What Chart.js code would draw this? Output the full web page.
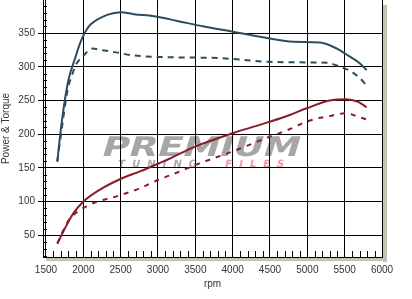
<!DOCTYPE html>
<html>
<head>
<meta charset="utf-8">
<script src="https://cdn.jsdelivr.net/npm/chart.js@4/dist/chart.umd.min.js"></script>
<style>
html,body{margin:0;padding:0;background:#fff;}
#c{display:block;}
</style>
</head>
<body>
<canvas id="c" width="412" height="299"></canvas>
<script>
// ---- data ----
const xTickValues = [1500, 2000, 2500, 3000, 3500, 4000, 4500, 5000, 5500, 6000];
const yTickValues = [50, 100, 150, 200, 250, 300, 350];

const bluePowerRpm = [1652, 1668, 1733, 1800, 1900, 1950, 2000, 2050, 2100, 2320, 2500, 2680, 2950, 3260, 3600, 4000, 4370, 4815, 5170, 5395, 5570, 5705, 5795];
const bluePowerVal = [159, 177, 236, 280, 316, 333, 346, 356, 363, 377, 381, 378, 375, 368, 360, 352, 344.5, 337, 336, 327, 315, 305, 295];

const blueTorqueRpm = [1652, 1720, 1790, 1856, 1900, 1990, 2123, 2234, 2457, 2657, 3213, 3800, 4460, 5000, 5261, 5438, 5572, 5705, 5795];
const blueTorqueVal = [160, 215, 266, 290, 303, 315, 327, 325, 321, 317, 314, 313, 307.5, 306.5, 306, 300, 294, 283, 272];

const redPowerRpm = [1652, 1780, 1868, 2000, 2225, 2505, 2760, 3015, 3160, 3505, 4000, 4500, 4765, 4990, 5300, 5520, 5680, 5795];
const redPowerVal = [38, 66, 83, 100, 118, 134, 145, 157, 164, 182, 201.5, 218.7, 228.6, 238.5, 250, 252, 248, 240];

const redTorqueRpm = [1652, 1780, 1830, 1960, 2140, 2505, 2760, 3015, 3160, 3505, 4000, 4500, 4765, 4990, 5300, 5520, 5680, 5795];
const redTorqueVal = [38, 68, 76, 88, 98, 110, 120, 133, 139, 154.6, 174.5, 196.5, 207.5, 218.7, 227, 231, 226, 222];

const xAxisTitle = 'rpm';
const yAxisTitle = 'Power & Torque';
const watermarkMain = 'PREMIUM';
const watermarkSub1 = 'TUNING';
const watermarkSub2 = 'FILES';

const pts = (xs, ys) => xs.map((x, i) => ({x: x, y: ys[i]}));

const BLUE = '#2c4d5c';
const RED = '#8a1c2b';

const bgPlugin = {
  id: 'bg',
  beforeDraw(chart) {
    const ctx = chart.ctx, a = chart.chartArea;
    ctx.save();
    ctx.fillStyle = '#ffffff';
    ctx.fillRect(0, 0, chart.width, chart.height);
    // 3D shadow bands
    ctx.fillStyle = '#c6c1b0';
    ctx.fillRect(a.left + 3, a.bottom, a.right - a.left + 2, 4);
    ctx.fillRect(a.right + 1, a.top + 5, 4, a.bottom - a.top);
    // watermark
    ctx.save();
    ctx.font = '900 32px "DejaVu Sans", "Liberation Sans", Arial, sans-serif';
    const w = ctx.measureText(watermarkMain).width;
    ctx.translate(100, 156);
    ctx.transform(1, 0, -0.3, 1, 0, 0);
    ctx.scale(198 / w, 0.85);
    ctx.fillStyle = 'rgba(150,150,150,0.85)';
    ctx.textBaseline = 'alphabetic';
    ctx.fillText(watermarkMain, 0, 0);
    ctx.restore();
    ctx.save();
    ctx.font = 'bold 10px "DejaVu Sans", Arial, sans-serif';
    ctx.letterSpacing = '7px';
    ctx.transform(1, 0, -0.2, 1, 0, 0);
    ctx.fillStyle = 'rgba(160,160,160,0.9)';
    ctx.fillText(watermarkSub1, 118 + 33, 167);
    ctx.fillStyle = 'rgba(238,140,150,0.9)';
    ctx.fillText(watermarkSub2, 225 + 33, 167);
    ctx.restore();
    ctx.restore();
  },
  beforeDatasetsDraw(chart) {
    const ctx = chart.ctx, a = chart.chartArea;
    const xs = chart.scales.x, ys = chart.scales.y;
    ctx.save();
    ctx.strokeStyle = '#000';
    ctx.lineWidth = 1;
    ctx.beginPath();
    for (let v = 1600; v < 6000; v += 100) {
      if (v % 500 === 0) continue;
      const px = Math.round(xs.getPixelForValue(v)) + 0.5;
      ctx.moveTo(px, a.bottom);
      ctx.lineTo(px, a.bottom - 6);
    }
    for (let v = 20; v < 400; v += 10) {
      if (v % 50 === 0) continue;
      const py = Math.round(ys.getPixelForValue(v)) + 0.5;
      ctx.moveTo(a.left, py);
      ctx.lineTo(a.left + 4, py);
    }
    ctx.stroke();
    ctx.restore();
  }
};

const font = {family: '"Liberation Sans", Arial, sans-serif', size: 10};

new Chart(document.getElementById('c'), {
  type: 'line',
  data: {
    datasets: [
      {data: pts(bluePowerRpm, bluePowerVal), borderColor: BLUE, borderWidth: 2},
      {data: pts(blueTorqueRpm, blueTorqueVal), borderColor: BLUE, borderWidth: 2, borderDash: [6, 5]},
      {data: pts(redPowerRpm, redPowerVal), borderColor: RED, borderWidth: 2},
      {data: pts(redTorqueRpm, redTorqueVal), borderColor: RED, borderWidth: 2, borderDash: [5, 6]}
    ]
  },
  options: {
    responsive: false,
    devicePixelRatio: 1,
    animation: false,
    elements: {
      point: {radius: 0},
      line: {cubicInterpolationMode: 'monotone', fill: false}
    },
    layout: {padding: {left: 0, right: 30, top: 0, bottom: 0}},
    plugins: {legend: {display: false}, tooltip: {enabled: false}},
    scales: {
      x: {
        type: 'linear',
        min: 1460, max: 6000,
        afterBuildTicks(s) { s.ticks = xTickValues.map(v => ({value: v})); },
        afterFit(s) { s.height = 42; s.paddingLeft = 0; s.paddingRight = 0; },
        grid: {color: '#000', lineWidth: 1, drawTicks: false},
        border: {display: true, color: '#000', width: 1},
        ticks: {font: font, color: '#333', padding: 7, maxRotation: 0, autoSkip: false, callback: v => String(v)},
        title: {display: true, text: xAxisTitle, font: font, color: '#333', padding: {top: 0, bottom: 9}}
      },
      y: {
        type: 'linear',
        min: 18, max: 399,
        afterBuildTicks(s) { s.ticks = yTickValues.map(v => ({value: v})); },
        afterFit(s) { s.width = 43; s.paddingTop = 0; s.paddingBottom = 0; },
        grid: {color: '#000', lineWidth: 1, tickLength: 5},
        border: {display: true, color: '#000', width: 1},
        ticks: {font: font, color: '#333', padding: 3, autoSkip: false, callback: v => String(v)},
        title: {display: true, text: yAxisTitle, font: font, color: '#333', padding: 0}
      }
    }
  },
  plugins: [bgPlugin]
});
</script>
</body>
</html>
